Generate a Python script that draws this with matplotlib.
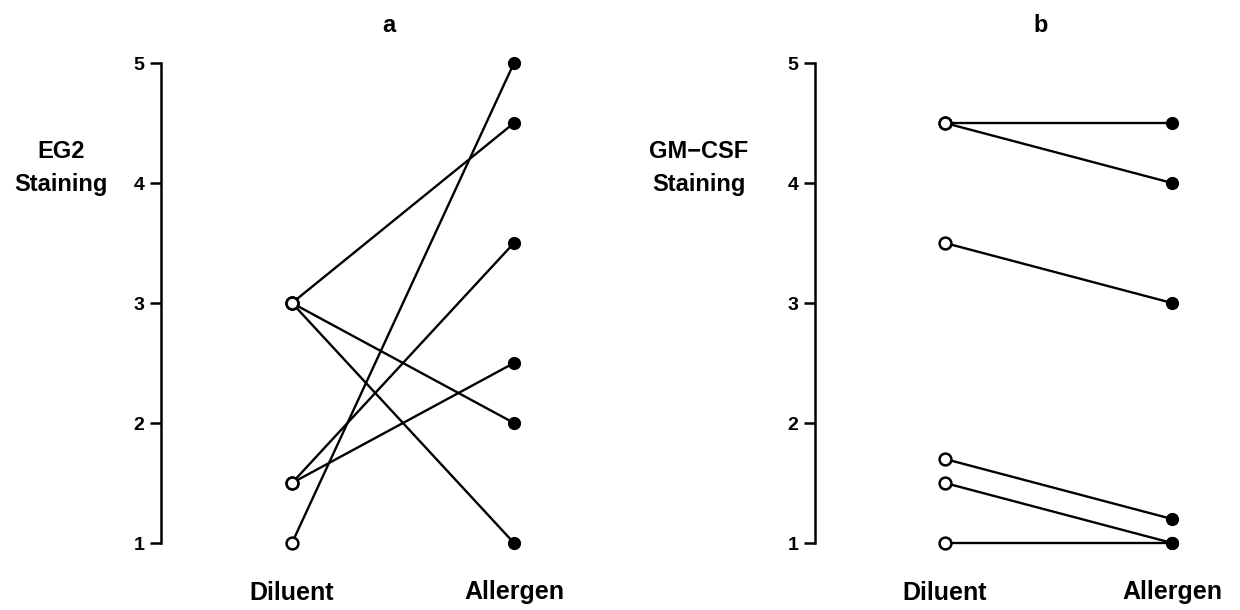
import matplotlib.pyplot as plt

# panel a: EG2 staining
eg2_diluent = [3.0, 3.0, 3.0, 1.5, 1.5, 1.0]
eg2_allergen = [4.5, 2.0, 1.0, 3.5, 2.5, 5.0]

# panel b: GM-CSF staining
gm_diluent = [4.5, 4.5, 3.5, 1.7, 1.5, 1.0]
gm_allergen = [4.5, 4.0, 3.0, 1.2, 1.0, 1.0]

groups = ['Diluent', 'Allergen']
yticks = [1, 2, 3, 4, 5]

plt.rcParams['font.family'] = ['Liberation Sans', 'DejaVu Sans']
plt.rcParams['font.weight'] = 'bold'

W, H = 1240, 610
fig = plt.figure(figsize=(W / 100, H / 100), dpi=100)


def panel(left_px, xmin, xmax, width_px, dil, alg, ylabel, label_x, title, title_x):
    ax = fig.add_axes([left_px / W, (H - 543) / H, width_px / W, 480 / H])
    for d, a in zip(dil, alg):
        ax.plot([0, 1], [d, a], color='black', linewidth=1.7, zorder=2, clip_on=False)
    ax.plot([0] * len(dil), dil, 'o', markersize=8.5, markerfacecolor='white',
            markeredgecolor='black', markeredgewidth=1.8, linestyle='none', zorder=3, clip_on=False)
    ax.plot([1] * len(alg), alg, 'o', markersize=8.5, color='black',
            linestyle='none', zorder=3, clip_on=False)
    ax.set_xlim(xmin, xmax)
    ax.set_ylim(1, 5)
    for s in ['top', 'right', 'bottom']:
        ax.spines[s].set_visible(False)
    ax.spines['left'].set_linewidth(1.8)
    ax.set_yticks(yticks)
    ax.set_yticklabels([str(t) for t in yticks], fontsize=14, fontweight='bold')
    ax.tick_params(axis='y', direction='out', length=8, width=1.8, pad=4)
    ax.set_xticks([0, 1])
    ax.set_xticklabels(groups, fontsize=18, fontweight='bold')
    ax.tick_params(axis='x', length=0, pad=27)
    ax.set_ylabel(ylabel, rotation=0, fontsize=17, fontweight='bold',
                  ha='center', va='center', linespacing=1.55)
    ax.yaxis.set_label_coords(label_x, 0.782)
    fig.text(title_x / W, 1 - 26 / H, title, fontsize=17, fontweight='bold',
             ha='center', va='center')
    return ax


panel(161, -131 / 222, 1.3, 1.89 * 222, eg2_diluent, eg2_allergen,
      'EG2\nStaining', (61 - 161) / 420, 'a', 389)
panel(815, -130 / 227, 1.3, 1.873 * 227, gm_diluent, gm_allergen,
      'GM\u2212CSF\nStaining', (699 - 815) / 425, 'b', 1041)

plt.savefig('out.png', dpi=100)
